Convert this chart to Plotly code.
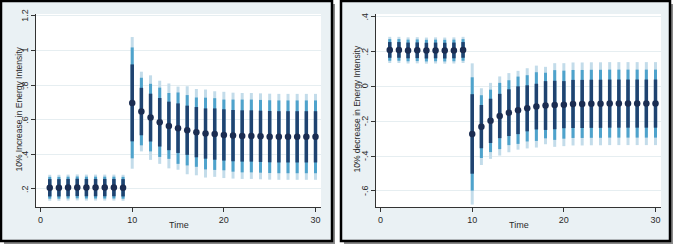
import plotly.graph_objects as go
from plotly.subplots import make_subplots

time = list(range(1, 31))

# Left panel: 10% increase in Energy Intensity
inc_est = [0.207, 0.207, 0.208, 0.209, 0.208, 0.208, 0.208, 0.208, 0.207,
           0.697, 0.647, 0.612, 0.585, 0.564, 0.551, 0.539, 0.528, 0.520, 0.517, 0.512,
           0.508, 0.506, 0.506, 0.504, 0.502, 0.501, 0.501, 0.501, 0.501, 0.501]
inc_dark = [0.050] * 9 + [0.222, 0.137, 0.138, 0.140, 0.140, 0.143, 0.142, 0.145, 0.145, 0.148,
                          0.148, 0.148, 0.148, 0.148, 0.148, 0.148, 0.148, 0.148, 0.148, 0.148, 0.148]
inc_mid = [0.063] * 9 + [0.320, 0.195, 0.195, 0.200, 0.190, 0.206, 0.203, 0.200, 0.207, 0.207,
                         0.204, 0.208, 0.210, 0.210, 0.210, 0.210, 0.210, 0.210, 0.210, 0.210, 0.210]
inc_light = [0.075] * 9 + [0.380, 0.230, 0.244, 0.240, 0.245, 0.240, 0.254, 0.249, 0.254, 0.247,
                           0.249, 0.248, 0.248, 0.248, 0.248, 0.248, 0.248, 0.248, 0.248, 0.248, 0.248]

# Right panel: 10% decrease in Energy Intensity
dec_est = [0.209, 0.209, 0.206, 0.207, 0.205, 0.206, 0.205, 0.206, 0.209,
           -0.273, -0.231, -0.198, -0.170, -0.151, -0.137, -0.126, -0.116, -0.110, -0.107, -0.105,
           -0.101, -0.101, -0.100, -0.100, -0.099, -0.099, -0.099, -0.099, -0.099, -0.099]
dec_dark = [0.045] * 9 + [0.228, 0.124, 0.127, 0.127, 0.134, 0.137, 0.132, 0.131, 0.140, 0.139,
                          0.135, 0.138, 0.138, 0.138, 0.138, 0.138, 0.138, 0.138, 0.138, 0.138, 0.138]
dec_mid = [0.062] * 9 + [0.325, 0.180, 0.179, 0.190, 0.186, 0.193, 0.190, 0.197, 0.188, 0.200,
                         0.195, 0.195, 0.195, 0.195, 0.195, 0.195, 0.195, 0.195, 0.195, 0.195, 0.195]
dec_light = [0.075] * 9 + [0.405, 0.220, 0.218, 0.227, 0.227, 0.226, 0.230, 0.235, 0.222, 0.240,
                           0.238, 0.238, 0.238, 0.238, 0.238, 0.238, 0.238, 0.238, 0.238, 0.238, 0.238]

x_ticks = [0, 10, 20, 30]
inc_yticks = [0.2, 0.4, 0.6, 0.8, 1.0, 1.2]
inc_ylabels = [".2", ".4", ".6", ".8", "1", "1.2"]
dec_yticks = [-0.6, -0.4, -0.2, 0.0, 0.2, 0.4]
dec_ylabels = ["-.6", "-.4", "-.2", "0", ".2", ".4"]

W, H = 677, 247
C_LIGHT = "#c3dcea"
C_MID = "#4fa3cc"
C_DARK = "#1f4370"
C_MARK = "#1b2d52"
FONT = "Liberation Sans, Arial, sans-serif"
TXT = "#2b2b2b"
FS = 8.5


def px(x):
    return x / W


def py(y):
    return 1 - y / H


fig = make_subplots(rows=1, cols=2)

panels = [
    (1, inc_est, inc_dark, inc_mid, inc_light),
    (2, dec_est, dec_dark, dec_mid, dec_light),
]
for col, est, dark, mid, light in panels:
    for arr, color, thick in [(light, C_LIGHT, 3), (mid, C_MID, 3), (dark, C_DARK, 3.5)]:
        fig.add_trace(go.Scatter(
            x=time, y=est, mode="markers",
            marker=dict(size=0.1, color="rgba(0,0,0,0)"),
            error_y=dict(type="data", array=arr, symmetric=True, color=color,
                         thickness=thick, width=0),
            showlegend=False, hoverinfo="skip"), row=1, col=col)
    fig.add_trace(go.Scatter(
        x=time, y=est, mode="markers",
        marker=dict(size=6.5, color=C_MARK),
        showlegend=False), row=1, col=col)

# plot-area pixel geometry
P1 = (36, 321)
P2 = (376, 661)
PT, PB = 14, 207

fig.update_xaxes(range=[-0.5, 30.6], tickvals=x_ticks, ticks="outside", ticklen=4,
                 tickcolor="#333", showline=True, linecolor="#333", linewidth=1,
                 showgrid=False, zeroline=False,
                 tickfont=dict(family=FONT, size=FS + 0.5, color=TXT))
fig.update_yaxes(ticks="outside", ticklen=4, tickcolor="#333", showticklabels=False,
                 showline=True, linecolor="#333", linewidth=1,
                 showgrid=True, gridcolor="#e6eef1", gridwidth=1, zeroline=False)
fig.update_layout(
    xaxis=dict(domain=[px(P1[0]), px(P1[1])]),
    xaxis2=dict(domain=[px(P2[0]), px(P2[1])]),
    yaxis=dict(domain=[py(PB), py(PT)], range=[0.096, 1.21], tickvals=inc_yticks),
    yaxis2=dict(domain=[py(PB), py(PT)], range=[-0.692, 0.415], tickvals=dec_yticks),
)

shapes = []
for (fx0, fx1), (ax0, ax1) in [((1, 332), P1), ((341, 670), P2)]:
    # drop shadow
    shapes.append(dict(type="rect", xref="paper", yref="paper",
                       x0=px(fx0 + 3), x1=px(fx1 + 3), y0=py(244), y1=py(4),
                       fillcolor="#8a8a8a", line=dict(width=0), layer="below"))
    # frame + graph region
    shapes.append(dict(type="rect", xref="paper", yref="paper",
                       x0=px(fx0), x1=px(fx1), y0=py(241), y1=py(1),
                       fillcolor="#eaf1f4", line=dict(color="#000", width=2.5), layer="below"))
    # white plot region
    shapes.append(dict(type="rect", xref="paper", yref="paper",
                       x0=px(ax0), x1=px(ax1), y0=py(PB), y1=py(PT),
                       fillcolor="#ffffff", line=dict(width=0), layer="below"))

annotations = [
    dict(text="10% Increase in Energy Intensity", x=px(18.5), y=py(109), textangle=-90,
         xref="paper", yref="paper", font=dict(family=FONT, size=FS, color=TXT)),
    dict(text="10% decrease in Energy Intensity", x=px(356.5), y=py(109), textangle=-90,
         xref="paper", yref="paper", font=dict(family=FONT, size=FS, color=TXT)),
    dict(text="Time", x=px(178.5), y=py(225), xref="paper", yref="paper",
         font=dict(family=FONT, size=FS + 0.5, color=TXT)),
    dict(text="Time", x=px(518.5), y=py(225), xref="paper", yref="paper",
         font=dict(family=FONT, size=FS + 0.5, color=TXT)),
]
# rotated y tick labels placed on the axis scale
for vals, labels, yref, xpix in [(inc_yticks, inc_ylabels, "y", 25),
                                  (dec_yticks, dec_ylabels, "y2", 365)]:
    for v, lab in zip(vals, labels):
        annotations.append(dict(text=lab, x=px(xpix), y=v, xref="paper", yref=yref,
                                textangle=-90, font=dict(family=FONT, size=FS + 0.5, color=TXT)))
for a in annotations:
    a.update(showarrow=False, xanchor="center", yanchor="middle")

fig.update_layout(
    width=W, height=H, margin=dict(l=0, r=0, t=0, b=0),
    paper_bgcolor="#ffffff", plot_bgcolor="rgba(0,0,0,0)",
    shapes=shapes, annotations=annotations, showlegend=False,
)

fig.write_html("out.html", config={"displayModeBar": False},
               post_script="document.body.style.margin='0';document.body.style.overflow='hidden';")
